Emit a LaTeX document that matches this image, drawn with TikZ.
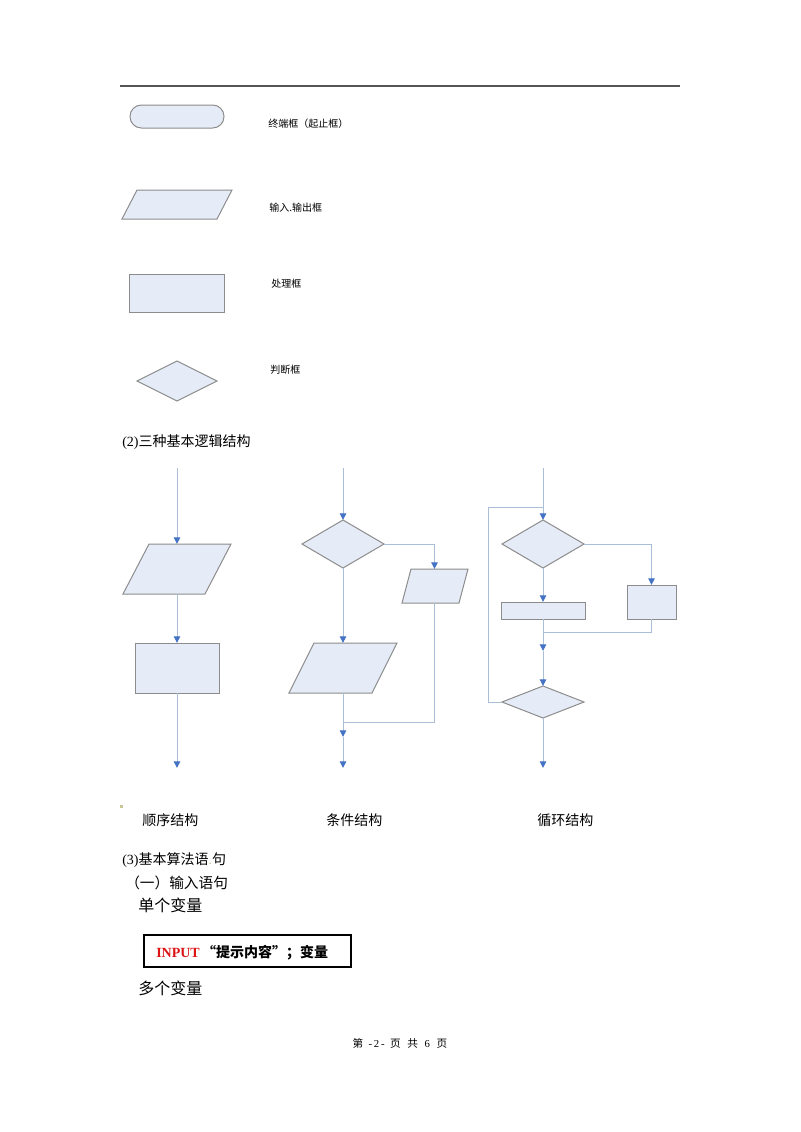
\documentclass[tikz,border=0pt]{standalone}
\usepackage{fontspec}
\setmainfont{Liberation Serif}
\newfontfamily\cjk{Noto Sans CJK SC}
\usetikzlibrary{shapes.geometric,arrows.meta}
\definecolor{boxfill}{RGB}{230,236,247}
\definecolor{boxline}{RGB}{140,140,140}
\definecolor{connc}{RGB}{170,190,215}
\definecolor{tipc}{RGB}{68,114,196}
\definecolor{dotc}{RGB}{200,200,150}
\definecolor{inred}{RGB}{220,20,20}
\newcommand{\fsz}[1]{\fontsize{#1}{#1}\selectfont}
\begin{document}
\begin{tikzpicture}[x=0.75pt,y=-0.75pt,
  shp/.style={draw=boxline,fill=boxfill,line width=0.75pt,inner sep=0pt,outer sep=0pt},
  rbox/.style={shp,rectangle},
  dia/.style={shp,diamond},
  conn/.style={draw=connc,line width=0.75pt},
  arr/.style={conn,-{Triangle[width=4.8pt,length=5pt,color=tipc]}},
  lbl/.style={anchor=west,inner sep=0pt,font=\cjk\fsz{7.5pt}},
  body/.style={anchor=west,inner sep=0pt,font=\fsz{10.5pt}}
]
\useasboundingbox (0,0) rectangle (800,1132);
\fill[white] (0,0) rectangle (800,1132);

% header rule
\draw[line width=1.1pt,draw={rgb,255:red,85;green,85;blue,85}] (120,86) -- (680,86);

% legend
\node[rbox,rounded corners=8.5pt,minimum width=94*0.75pt,minimum height=23*0.75pt] (term) at (177,116.5) {};
\node[lbl] (termL) at (268,124) {终端框（起止框）};
\draw[shp] (137,190) -- (232,190) -- (217,219) -- (122,219) -- cycle;
\node[lbl] (ioL) at (269,208) {输入.输出框};
\node[rbox,minimum width=95*0.75pt,minimum height=38*0.75pt] (proc) at (176.5,293) {};
\node[lbl] (procL) at (271,284) {处理框};
\node[dia,aspect=2,minimum width=80*0.75pt,minimum height=40*0.75pt] (dec) at (177,381) {};
\node[lbl] (decL) at (270,370) {判断框};

\node[body] (h2) at (122,442) {(2)\cjk 三种基本逻辑结构};

% sequence structure
\coordinate (s0) at (177,468);
\coordinate (s1) at (177,768);
\draw[shp] (149,544) -- (231,544) -- (205,594) -- (123,594) -- cycle;
\coordinate (spN) at (177,544);
\coordinate (spS) at (177,594);
\node[rbox,minimum width=84*0.75pt,minimum height=50*0.75pt] (sr) at (177,668) {};
\draw[arr] (s0) -- (spN);
\draw[arr] (spS) -- (sr.north);
\draw[arr] (sr.south) -- (s1);

% condition structure
\coordinate (c0) at (343,468);
\coordinate (cm) at (343,722);
\coordinate (cm2) at (343,737);
\coordinate (c1) at (343,768);
\node[dia,aspect=1.708,minimum width=82*0.75pt,minimum height=48*0.75pt] (cd) at (343,544) {};
\draw[shp] (411,569) -- (468,569) -- (459,603) -- (402,603) -- cycle;
\coordinate (cp2N) at (434.5,569);
\coordinate (cp2S) at (434.5,603);
\draw[shp] (314,643) -- (397,643) -- (372,693) -- (289,693) -- cycle;
\coordinate (cp1N) at (343,643);
\coordinate (cp1S) at (343,693);
\draw[arr] (c0) -- (cd.north);
\draw[arr] (cd.east) -| (cp2N);
\draw[arr] (cd.south) -- (cp1N);
\draw[conn] (cp2S) |- (cm);
\draw[arr] (cp1S) -- (cm2);
\draw[arr] (cm2) -- (c1);

% loop structure
\coordinate (l0) at (543,468);
\coordinate (lb) at (488,507);
\coordinate (lj) at (543,507);
\coordinate (lm) at (543,632);
\coordinate (lm2) at (543,651);
\coordinate (l1) at (543,768);
\node[dia,aspect=1.708,minimum width=82*0.75pt,minimum height=48*0.75pt] (ld1) at (543,544) {};
\node[rbox,minimum width=84*0.75pt,minimum height=17*0.75pt] (lw) at (543,610.5) {};
\node[rbox,minimum width=49*0.75pt,minimum height=34*0.75pt] (lr) at (651.5,602) {};
\node[dia,aspect=2.5625,minimum width=82*0.75pt,minimum height=32*0.75pt] (ld2) at (543,702) {};
\draw[arr] (l0) -- (ld1.north);
\draw[conn] (ld2.west) -| (lb) -- (lj);
\draw[arr] (ld1.east) -| (lr.north);
\draw[arr] (ld1.south) -- (lw.north);
\draw[conn] (lr.south) |- (lm);
\draw[arr] (lw.south) -- (lm2);
\draw[arr] (lm2) -- (ld2.north);
\draw[arr] (ld2.south) -- (l1);

% captions
\fill[dotc] (119.5,804.5) rectangle (122.5,807.5);
\node[body,font=\cjk\fsz{10.5pt}] (cap1) at (142,820) {顺序结构};
\node[body,font=\cjk\fsz{10.5pt}] (cap2) at (326,820) {条件结构};
\node[body,font=\cjk\fsz{10.5pt}] (cap3) at (537,820) {循环结构};

% section 3
\node[body] (h3) at (122,860) {(3){\cjk 基本算法语}{\color{dotc}.}{\cjk 句}};
\node[body,font=\cjk\fsz{11pt}] (h31) at (125,883) {（一）输入语句};
\node[body,font=\cjk\fsz{12pt}] (single) at (138,905) {单个变量};
\node[draw=black,line width=1.2pt,minimum width=207*0.75pt,minimum height=32*0.75pt,inner sep=0pt] (inbox) at (247.5,951) {};
\node[body] (intext) at (156,953) {\textbf{\color{inred}INPUT}\,{\cjk\bfseries “提示内容”；变量}};
\node[body,font=\cjk\fsz{12pt}] (multi) at (138,988) {多个变量};

% footer
\node[inner sep=0pt,font=\fsz{8pt}] (foot) at (400,1043) {{\cjk 第}\hspace{4pt}-\,2\,-\hspace{4pt}{\cjk 页}\hspace{5pt}{\cjk 共}\hspace{5pt}6\hspace{5pt}{\cjk 页}};
\end{tikzpicture}
\end{document}
